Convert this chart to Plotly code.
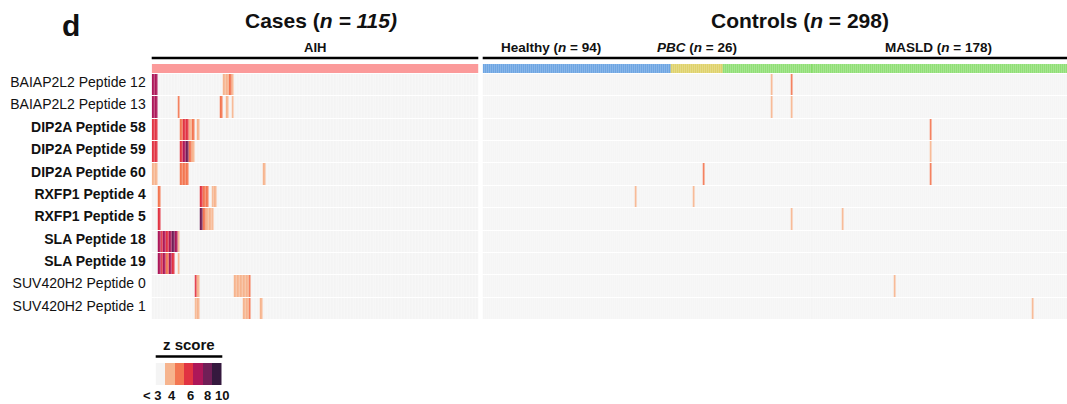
import numpy as np
import plotly.graph_objects as go

W, H = 1067, 404

peptides = ["BAIAP2L2 Peptide 12", "BAIAP2L2 Peptide 13", "DIP2A Peptide 58", "DIP2A Peptide 59",
            "DIP2A Peptide 60", "RXFP1 Peptide 4", "RXFP1 Peptide 5", "SLA Peptide 18",
            "SLA Peptide 19", "SUV420H2 Peptide 0", "SUV420H2 Peptide 1"]
bold_rows = [False, False, True, True, True, True, True, True, True, False, False]

n_cases = 115
groups = ["Healthy", "PBC", "MASLD"]
group_n = [94, 26, 178]

# (sample column, z score) for samples with z >= 3; all other samples are < 3
cases_hits = [
    [(0, 7), (1, 7), (25, 3.5), (26, 3.5), (27, 4.5), (28, 3.5)],
    [(0, 7), (1, 7), (9, 4.5), (24, 4.5), (26, 3.5), (28, 3.5)],
    [(0, 5.5), (1, 5.5), (10, 4.5), (11, 5.5), (12, 5.5), (13, 3.5), (14, 4.5), (16, 3.5)],
    [(0, 5.5), (1, 5.5), (10, 5.5), (11, 7), (12, 8.5), (13, 4.5), (14, 3.5)],
    [(0, 3.5), (1, 3.5), (10, 4.5), (11, 4.5), (12, 4.5), (39, 3.5)],
    [(2, 4.5), (17, 5.5), (18, 4.5), (19, 4.5), (21, 3.5), (22, 3.5)],
    [(2, 5.5), (17, 8.5), (18, 4.5), (19, 3.5), (20, 3.5), (21, 3.5)],
    [(2, 7), (3, 5.5), (4, 7), (5, 5.5), (6, 7), (7, 8.5), (8, 7), (9, 3.5)],
    [(2, 7), (3, 5.5), (4, 7), (5, 4.5), (6, 7), (7, 5.5), (9, 3.5)],
    [(15, 5.5), (16, 3.5), (29, 3.5), (30, 3.5), (31, 3.5), (32, 3.5), (33, 3.5), (34, 4.5)],
    [(15, 3.5), (16, 3.5), (32, 3.5), (33, 3.5), (34, 4.5), (38, 3.5)],
]
controls_hits = [
    [(144, 3.5), (154, 4.5)],
    [(144, 3.5), (154, 3.5)],
    [(223, 4.5)],
    [(223, 3.5)],
    [(110, 4.5), (223, 4.5)],
    [(76, 3.5), (105, 3.5)],
    [(154, 3.5), (179, 3.5)],
    [],
    [],
    [(205, 3.5)],
    [(274, 3.5)],
]

legend_values = [2, 3.5, 4.5, 5.5, 7, 8.5, 10]
legend_labels = ["< 3", "4", "6", "8", "10"]

bin_edges = [3, 4, 5, 6, 7.5, 9]
level_colors = ["#f4f4f4", "#f6b48e", "#f37651", "#e13342", "#ad1759", "#701f57", "#35193e"]
group_colors = ["#fb9a9a", "#609de0", "#dccd5c", "#86dc69"]


def build(hits, ncol):
    m = np.full((len(peptides), ncol), 2.0)
    for r, row in enumerate(hits):
        for c, z in row:
            m[r, c] = z
    return np.digitize(m, bin_edges)


def disc_scale(colors):
    n = len(colors)
    sc = []
    for i, c in enumerate(colors):
        sc.append([i / n, c])
        sc.append([(i + 1) / n, c])
    return sc


n_ctrl = sum(group_n)
zc = build(cases_hits, n_cases)
zk = build(controls_hits, n_ctrl)
ann_cases = np.zeros((1, n_cases))
ann_ctrl = np.concatenate([np.full(n, i + 1) for i, n in enumerate(group_n)])[None, :]


def px(x):
    return x / W


def py(y):
    return 1 - y / H


fig = go.Figure()
scale = disc_scale(level_colors)
common = dict(colorscale=scale, zmin=-0.5, zmax=6.5, showscale=False, hoverinfo="skip", xgap=0.35, ygap=1)
fig.add_trace(go.Heatmap(z=zc, x=list(range(n_cases)), y=list(range(len(peptides))), xaxis="x", yaxis="y", **common))
fig.add_trace(go.Heatmap(z=zk, x=list(range(n_ctrl)), y=list(range(len(peptides))), xaxis="x2", yaxis="y2", **common))

gscale = disc_scale(group_colors)
gcommon = dict(colorscale=gscale, zmin=-0.5, zmax=3.5, showscale=False, hoverinfo="skip")
fig.add_trace(go.Heatmap(z=ann_cases, xaxis="x", yaxis="y3", xgap=0, **gcommon))
fig.add_trace(go.Heatmap(z=ann_ctrl, xaxis="x2", yaxis="y4", xgap=0.35, **gcommon))

leg_idx = np.digitize(np.array(legend_values), bin_edges)[None, :]
fig.add_trace(go.Heatmap(z=leg_idx, xaxis="x5", yaxis="y5", colorscale=scale, zmin=-0.5, zmax=6.5,
                         showscale=False, hoverinfo="skip", xgap=0))

row_top, row_bot = 74, 320
ann_top, ann_bot = 64, 73
xl0, xl1 = 151.7, 478.3
xr0 = 482.7
col_w_r = 2.003
r_max = (W - xr0) / col_w_r - 0.5

hidden = dict(showgrid=False, zeroline=False, showticklabels=False, ticks="", showline=False)
ticktext = [f"<b>{p}</b>" if b else p for p, b in zip(peptides, bold_rows)]
fig.update_layout(
    width=W, height=H, margin=dict(l=0, r=0, t=0, b=0),
    paper_bgcolor="white", plot_bgcolor="white",
    font=dict(family="Arial, Liberation Sans, sans-serif", color="#111"),
    xaxis=dict(domain=[px(xl0), px(xl1)], range=[-0.5, n_cases - 0.5], anchor="y", **hidden),
    yaxis=dict(domain=[py(row_bot), py(row_top)], range=[len(peptides) - 0.5, -0.5], anchor="x",
               tickmode="array", tickvals=list(range(len(peptides))), ticktext=ticktext,
               showgrid=False, zeroline=False, ticks="", ticklabelstandoff=5, ticklabelshift=3,
               tickfont=dict(size=14, color="#111")),
    xaxis2=dict(domain=[px(xr0), 1], range=[-0.5, r_max], anchor="y2", **hidden),
    yaxis2=dict(domain=[py(row_bot), py(row_top)], range=[len(peptides) - 0.5, -0.5], anchor="x2", **hidden),
    yaxis3=dict(domain=[py(ann_bot), py(ann_top)], range=[0.5, -0.5], anchor="x", **hidden),
    yaxis4=dict(domain=[py(ann_bot), py(ann_top)], range=[0.5, -0.5], anchor="x2", **hidden),
    xaxis5=dict(domain=[px(155.7), px(221.7)], range=[-0.5, 6.5], anchor="y5", **hidden),
    yaxis5=dict(domain=[py(385), py(363)], range=[-0.5, 0.5], anchor="x5", **hidden),
)

shapes = [
    dict(type="line", xref="paper", yref="paper", x0=px(xl0), x1=px(xl1), y0=py(58), y1=py(58),
         line=dict(color="black", width=2.5)),
    dict(type="line", xref="paper", yref="paper", x0=px(xr0), x1=1, y0=py(58), y1=py(58),
         line=dict(color="black", width=2.5)),
    dict(type="line", xref="paper", yref="paper", x0=px(155.7), x1=px(222.3), y0=py(356.5), y1=py(356.5),
         line=dict(color="black", width=2.5)),
]
fig.update_layout(shapes=shapes)


def note(text, x, y, size, bold=True):
    fig.add_annotation(text=f"<b>{text}</b>" if bold else text, x=px(x), y=py(y), xref="paper", yref="paper",
                       showarrow=False, xanchor="center", yanchor="middle", font=dict(size=size, color="#111"))


note("d", 71, 25, 30)
note(f"Cases (<i>n = {n_cases})</i>", 321, 20, 21)
note(f"Controls (<i>n</i> = {n_ctrl})", 800, 20, 21)
note("AIH", 315, 47, 13)
note(f"{groups[0]} (<i>n</i> = {group_n[0]})", 551, 47, 13.5)
note(f"<i>{groups[1]}</i> (<i>n</i> = {group_n[1]})", 697, 47, 13.5)
note(f"{groups[2]} (<i>n</i> = {group_n[2]})", 938, 47, 13.5)
note("z score", 189, 344, 15)
for lab, x in zip(legend_labels, [152, 171.5, 190, 207, 221.5]):
    note(lab, x, 395, 13)

fig.write_html("out.html", config={"displayModeBar": False},
               post_script="document.body.style.margin='0';document.body.style.overflow='hidden';")
